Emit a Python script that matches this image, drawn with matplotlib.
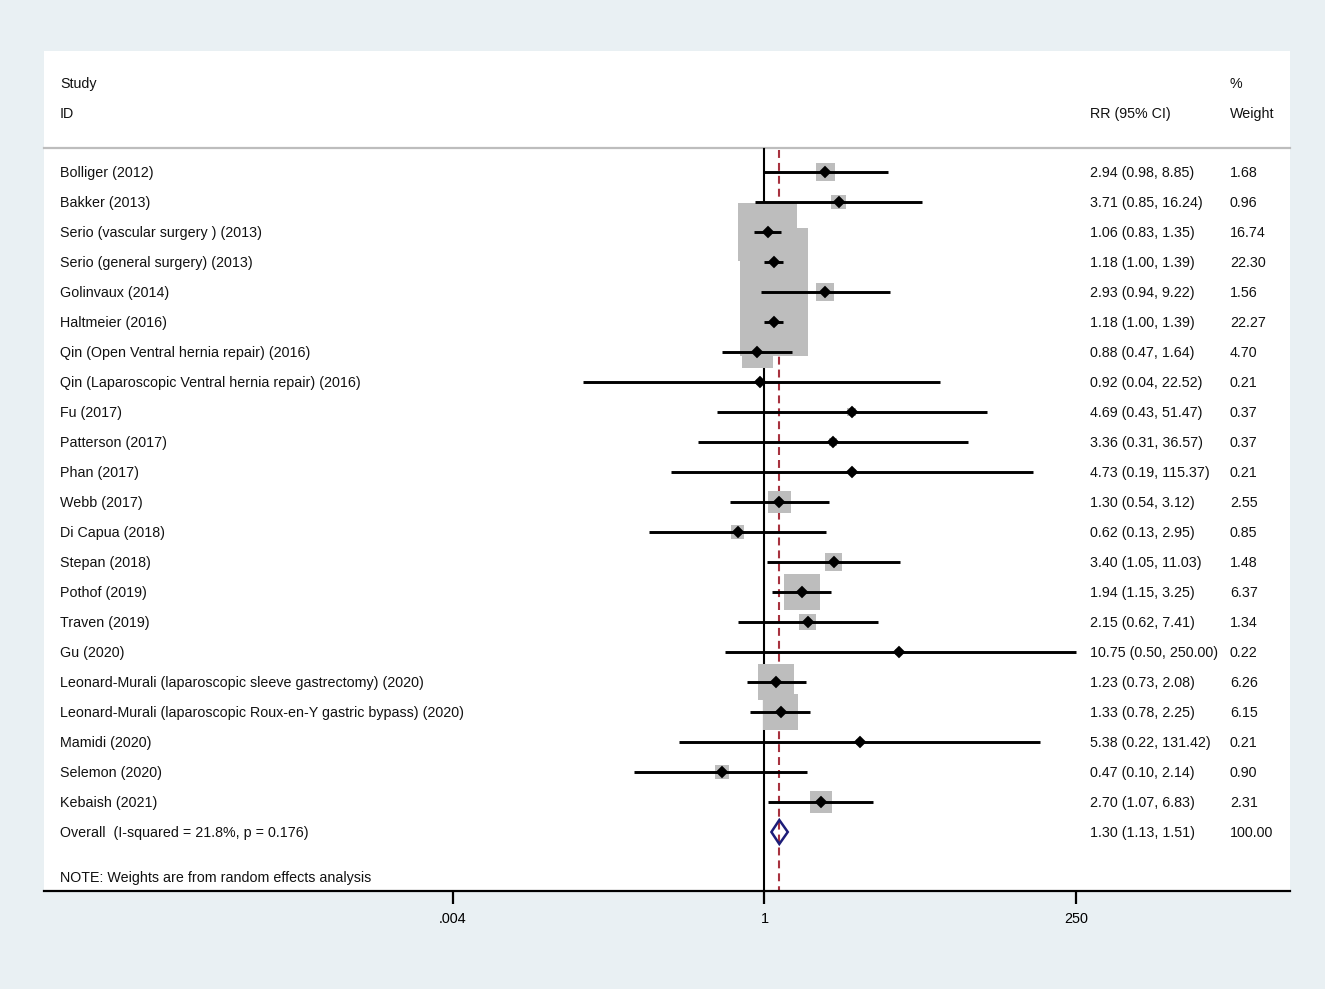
import numpy as np
import matplotlib
matplotlib.use("Agg")
import matplotlib.pyplot as plt
from matplotlib.patches import Polygon
import matplotlib.transforms as mtransforms

plt.rcParams['font.family'] = ['Liberation Sans', 'DejaVu Sans']

studies = [
    "Bolliger (2012)", "Bakker (2013)", "Serio (vascular surgery ) (2013)",
    "Serio (general surgery) (2013)", "Golinvaux (2014)", "Haltmeier (2016)",
    "Qin (Open Ventral hernia repair) (2016)",
    "Qin (Laparoscopic Ventral hernia repair) (2016)", "Fu (2017)",
    "Patterson (2017)", "Phan (2017)", "Webb (2017)", "Di Capua (2018)",
    "Stepan (2018)", "Pothof (2019)", "Traven (2019)", "Gu (2020)",
    "Leonard-Murali (laparoscopic sleeve gastrectomy) (2020)",
    "Leonard-Murali (laparoscopic Roux-en-Y gastric bypass) (2020)",
    "Mamidi (2020)", "Selemon (2020)", "Kebaish (2021)",
]
rr = [2.94, 3.71, 1.06, 1.18, 2.93, 1.18, 0.88, 0.92, 4.69, 3.36, 4.73, 1.30,
      0.62, 3.40, 1.94, 2.15, 10.75, 1.23, 1.33, 5.38, 0.47, 2.70]
lo = [0.98, 0.85, 0.83, 1.00, 0.94, 1.00, 0.47, 0.04, 0.43, 0.31, 0.19, 0.54,
      0.13, 1.05, 1.15, 0.62, 0.50, 0.73, 0.78, 0.22, 0.10, 1.07]
hi = [8.85, 16.24, 1.35, 1.39, 9.22, 1.39, 1.64, 22.52, 51.47, 36.57, 115.37,
      3.12, 2.95, 11.03, 3.25, 7.41, 250.00, 2.08, 2.25, 131.42, 2.14, 6.83]
weights = [1.68, 0.96, 16.74, 22.30, 1.56, 22.27, 4.70, 0.21, 0.37, 0.37, 0.21,
           2.55, 0.85, 1.48, 6.37, 1.34, 0.22, 6.26, 6.15, 0.21, 0.90, 2.31]
overall_label = "Overall  (I-squared = 21.8%, p = 0.176)"
overall_rr, overall_lo, overall_hi = 1.30, 1.13, 1.51
xticks = [0.004, 1, 250]
xticklabels = [".004", "1", "250"]

W, H = 1325, 989
DPI = 100
bg = "#e9f0f3"
fig = plt.figure(figsize=(W / DPI, H / DPI), dpi=DPI, facecolor=bg)

px_l, px_r, px_t, px_b = 44, 1290, 51, 891
ax = fig.add_axes([px_l / W, 1 - px_b / H, (px_r - px_l) / W, (px_b - px_t) / H])
ax.set_facecolor("white")
ax.set_xscale("log")
one_px = 764.5
dec = 130.0
ax.set_xlim(10 ** ((px_l - one_px) / dec), 10 ** ((px_r - one_px) / dec))
row0, step = 172, 30
ax.set_ylim((px_b - row0) / step, (px_t - row0) / step)

for s in ["top", "left", "right"]:
    ax.spines[s].set_visible(False)
ax.spines["bottom"].set_linewidth(1.6)
ax.set_yticks([])
ax.set_xticks(xticks)
ax.set_xticklabels(xticklabels, fontsize=10.4)
ax.minorticks_off()
ax.tick_params(axis="x", direction="out", length=9, width=1.6, pad=6)

n = len(studies)
ys = np.arange(n)
y_over = n
sep_y = (148 - row0) / step

trans = mtransforms.blended_transform_factory(ax.transAxes, ax.transData)
def fx(px):
    return (px - px_l) / (px_r - px_l)

# separator line
ax.plot([0, 1], [sep_y, sep_y], transform=trans, color="#bdbdbd", lw=1.6, zorder=1, clip_on=False)

# reference lines
ylo_axis = (px_b - row0) / step
ax.plot([1, 1], [sep_y + 0.03, ylo_axis], color="black", lw=1.5, zorder=1)
ax.plot([overall_rr, overall_rr], [sep_y + 0.05, ylo_axis], color="#a8323f", lw=1.5,
        dashes=(3.8, 2.4), zorder=1)

# weight boxes
side_px = 68 * np.sqrt(np.array(weights) / 22.30)
side_pt = side_px * 72 / DPI
ax.scatter(rr, ys, s=side_pt ** 2, marker="s", color="#bdbdbd", linewidths=0, zorder=2)

# CIs
ax.hlines(ys, lo, hi, color="black", lw=2.1, zorder=3)
ax.plot(rr, ys, linestyle="none", marker="D", ms=6.6, color="black", mew=0.3, zorder=4)

# overall diamond
hh = 12 / step
dia = Polygon([[overall_lo, y_over], [overall_rr, y_over - hh], [overall_hi, y_over],
               [overall_rr, y_over + hh]], closed=True, fill=False,
              edgecolor="#1c1c78", lw=1.8, zorder=4, joinstyle="miter")
ax.add_patch(dia)

fs = 10.3
dy = 1.0 / step  # text nudge down by ~1px

def put(px, y, s):
    ax.text(fx(px), y + dy, s, transform=trans, fontsize=fs, va="center", ha="left",
            color="#111111")

# headers
put(60, (83 - row0) / step, "Study")
put(60, (113 - row0) / step, "ID")
put(1090, (113 - row0) / step, "RR (95% CI)")
put(1230, (83 - row0) / step, "%")
put(1230, (113 - row0) / step, "Weight")

for i in range(n):
    put(60, i, studies[i])
    put(1090, i, f"{rr[i]:.2f} ({lo[i]:.2f}, {hi[i]:.2f})")
    put(1230, i, f"{weights[i]:.2f}")

put(60, y_over, overall_label)
put(1090, y_over, f"{overall_rr:.2f} ({overall_lo:.2f}, {overall_hi:.2f})")
put(1230, y_over, "100.00")
put(60, (877 - row0) / step, "NOTE: Weights are from random effects analysis")

fig.savefig("out.png", dpi=DPI, facecolor=bg)
